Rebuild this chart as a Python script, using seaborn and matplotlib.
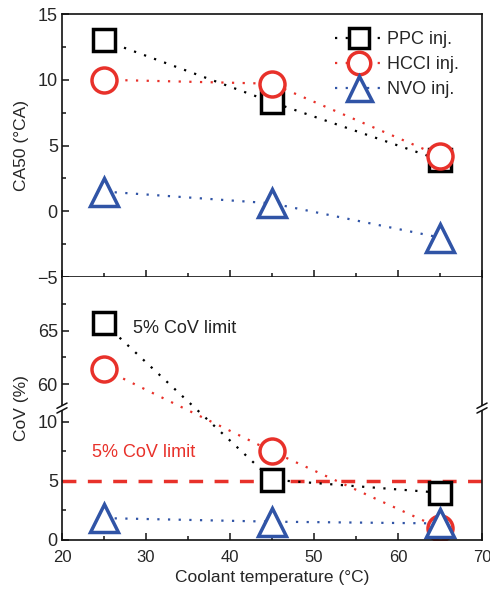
import numpy as np
import matplotlib
matplotlib.use('Agg')
import matplotlib.pyplot as plt
import seaborn as sns

temps = [25, 45, 65]
series = ['PPC inj.', 'HCCI inj.', 'NVO inj.']
ca50_ppc = [13.0, 8.3, 3.9]
ca50_hcci = [10.0, 9.7, 4.2]
ca50_nvo = [1.5, 0.6, -2.0]
cov_ppc = [65.7, 5.1, 4.0]
cov_hcci = [61.4, 7.5, 1.0]
cov_nvo = [1.85, 1.55, 1.4]
cov_limit = 5

sns.set_style('ticks')
plt.rcParams['font.family'] = ['Liberation Sans', 'DejaVu Sans']

colors = ['black', '#e8312a', '#3054a6']
markers = ['s', 'o', '^']
msizes = [16, 18, 20]

fig = plt.figure(figsize=(4.9, 5.91), dpi=100)
ax1 = fig.add_axes([0.1265, 0.5313, 0.8572, 0.4450])
ax2 = fig.add_axes([0.1265, 0.0863, 0.8572, 0.4450])

# broken y axis for CoV: piecewise linear scale
lo_top, hi_bot, ratio = 11.16, 57.79, 0.907
xp = [-100, lo_top, hi_bot, 300]
fp = [-100, lo_top, lo_top + 0.01, lo_top + 0.01 + (300 - hi_bot) * ratio]
fwd = lambda y: np.interp(y, xp, fp)
inv = lambda y: np.interp(y, fp, xp)
ax2.set_yscale('function', functions=(fwd, inv))

dots = (0, (1, 3.8))
for ax, data in [(ax1, [ca50_ppc, ca50_hcci, ca50_nvo]), (ax2, [cov_ppc, cov_hcci, cov_nvo])]:
    for name, vals, c, m, ms in zip(series, data, colors, markers, msizes):
        sns.lineplot(x=temps, y=vals, ax=ax, color=c, linestyle=dots, linewidth=1.6,
                     marker=m, markersize=ms, markerfacecolor='white',
                     markeredgecolor=c, markeredgewidth=2.5, label=name,
                     legend=False)

ax2.axhline(cov_limit, color='#e8312a', linestyle=(0, (4, 3.3)), linewidth=2.5, zorder=1)
ax2.text(28.5, 65.2, '5% CoV limit', fontsize=13, color='#222222', va='center')
ax2.text(23.6, 7.4, '5% CoV limit', fontsize=13, color='#e8312a', va='center')

ax1.set_xlim(20, 70)
ax1.set_ylim(-5, 15)
ax1.set_yticks([-5, 0, 5, 10, 15])
ax1.set_yticks(np.arange(-2.5, 15, 5), minor=True)
ax1.set_xticks(range(20, 71, 10))
ax1.set_xticks(range(25, 70, 10), minor=True)
ax1.tick_params(labelbottom=False)
ax1.set_ylabel('CA50 (°CA)', fontsize=12.5, labelpad=6)

ax2.set_xlim(20, 70)
ax2.set_ylim(0, 70)
ax2.set_yticks([0, 5, 10, 60, 65])
ax2.set_yticks([2.5, 7.5, 62.5, 67.5], minor=True)
ax2.set_xticks(range(20, 71, 10))
ax2.set_xticks(range(25, 70, 10), minor=True)
ax2.set_ylabel('CoV (%)', fontsize=12.5, labelpad=6)
ax2.set_xlabel('Coolant temperature (°C)', fontsize=12.5, labelpad=4)
ax2.spines['top'].set_visible(False)

for ax in (ax1, ax2):
    for s in ax.spines.values():
        s.set_linewidth(1.2)
        s.set_color('#111111')
    ax.tick_params(which='major', direction='in', length=5, width=1.2, labelsize=13, pad=3)
    ax.tick_params(which='minor', direction='in', length=3, width=1.2)
ax2.tick_params(axis='x', which='major', labelsize=12, pad=7)

# break marks on both vertical spines
yb = (fwd(lo_top) - fwd(0)) / (fwd(70) - fwd(0))
for xa in (0, 1):
    ax2.plot([xa - 0.004, xa + 0.004], [yb - 0.004, yb + 0.004], color='white',
             linewidth=3, transform=ax2.transAxes, clip_on=False, zorder=5)
    for dy in (-0.009, 0.009):
        ax2.plot([xa - 0.012, xa + 0.012], [yb + dy - 0.01, yb + dy + 0.01],
                 color='#111111', linewidth=1.1, transform=ax2.transAxes,
                 clip_on=False, zorder=6)

ax1.legend(loc='upper right', bbox_to_anchor=(0.961, 0.962), frameon=False,
           fontsize=13, handlelength=2.6, handletextpad=0.25, labelspacing=0.45,
           borderaxespad=0, numpoints=1, markerscale=0.9)

fig.savefig('out.png', dpi=100)
